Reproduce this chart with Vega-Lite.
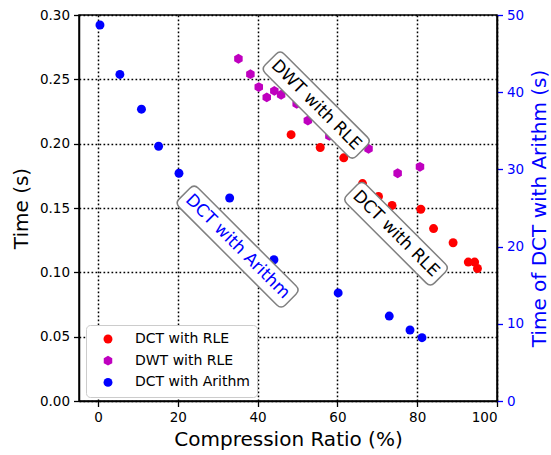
{
  "$schema": "https://vega.github.io/schema/vega-lite/v6.json",
  "width": 418,
  "height": 386,
  "autosize": {"type": "none"},
  "padding": {"left": 79, "top": 15, "right": 54, "bottom": 54},
  "config": {
    "font": "DejaVu Sans",
    "view": {"stroke": "black", "strokeWidth": 1.5},
    "axis": {
      "labelFont": "DejaVu Sans", "titleFont": "DejaVu Sans",
      "labelFontSize": 13.5, "titleFontSize": 20, "titleFontWeight": "normal",
      "labelColor": "black", "titleColor": "black", "tickColor": "black",
      "domainColor": "black", "domainWidth": 1.5, "tickWidth": 1.3, "tickSize": 5.5,
      "labelPadding": 4, "grid": true, "gridColor": "black", "gridOpacity": 1,
      "gridDash": [1.7, 2.3], "gridWidth": 1.5
    },
    "legend": {
      "fillColor": "#ffffff", "strokeColor": "#cccccc", "cornerRadius": 4,
      "padding": 7, "labelFontSize": 14, "labelFont": "DejaVu Sans", "labelColor": "black",
      "symbolSize": 80, "rowPadding": 7.7, "labelOffset": 20, "symbolOffset": 8
    }
  },
  "datasets": {
    "points": [
      {"series": "DCT with RLE", "ratio": 48.4, "time": 0.207},
      {"series": "DCT with RLE", "ratio": 55.7, "time": 0.197},
      {"series": "DCT with RLE", "ratio": 61.6, "time": 0.189},
      {"series": "DCT with RLE", "ratio": 66.3, "time": 0.169},
      {"series": "DCT with RLE", "ratio": 70.3, "time": 0.159},
      {"series": "DCT with RLE", "ratio": 73.7, "time": 0.152},
      {"series": "DCT with RLE", "ratio": 80.9, "time": 0.149},
      {"series": "DCT with RLE", "ratio": 84.1, "time": 0.134},
      {"series": "DCT with RLE", "ratio": 89.0, "time": 0.123},
      {"series": "DCT with RLE", "ratio": 92.8, "time": 0.108},
      {"series": "DCT with RLE", "ratio": 94.4, "time": 0.108},
      {"series": "DCT with RLE", "ratio": 95.1, "time": 0.103},
      {"series": "DWT with RLE", "ratio": 35.2, "time": 0.266},
      {"series": "DWT with RLE", "ratio": 38.2, "time": 0.254},
      {"series": "DWT with RLE", "ratio": 40.3, "time": 0.244},
      {"series": "DWT with RLE", "ratio": 42.3, "time": 0.236},
      {"series": "DWT with RLE", "ratio": 44.2, "time": 0.241},
      {"series": "DWT with RLE", "ratio": 45.9, "time": 0.238},
      {"series": "DWT with RLE", "ratio": 49.8, "time": 0.231},
      {"series": "DWT with RLE", "ratio": 52.6, "time": 0.218},
      {"series": "DWT with RLE", "ratio": 58.0, "time": 0.206},
      {"series": "DWT with RLE", "ratio": 67.8, "time": 0.196},
      {"series": "DWT with RLE", "ratio": 75.1, "time": 0.177},
      {"series": "DWT with RLE", "ratio": 80.7, "time": 0.182},
      {"series": "DCT with Arithm", "ratio": 0.5, "time": 48.7},
      {"series": "DCT with Arithm", "ratio": 5.5, "time": 42.3},
      {"series": "DCT with Arithm", "ratio": 10.9, "time": 37.8},
      {"series": "DCT with Arithm", "ratio": 15.2, "time": 33.0},
      {"series": "DCT with Arithm", "ratio": 20.3, "time": 29.5},
      {"series": "DCT with Arithm", "ratio": 33.0, "time": 26.3},
      {"series": "DCT with Arithm", "ratio": 44.1, "time": 18.3},
      {"series": "DCT with Arithm", "ratio": 60.2, "time": 14.0},
      {"series": "DCT with Arithm", "ratio": 73.0, "time": 11.0},
      {"series": "DCT with Arithm", "ratio": 78.2, "time": 9.2},
      {"series": "DCT with Arithm", "ratio": 81.2, "time": 8.2}
    ],
    "notes": [
      {"label": "DWT with RLE", "ratio": 54.7, "time": 0.230},
      {"label": "DCT with Arithm", "ratio": 35.0, "time": 0.120},
      {"label": "DCT with RLE", "ratio": 74.7, "time": 0.130}
    ]
  },
  "resolve": {"scale": {"y": "independent"}, "axis": {"y": "independent"}},
  "layer": [
    {
      "data": {"name": "points"},
      "transform": [{"filter": "datum.series !== 'DCT with Arithm'"}],
      "mark": {"type": "point", "filled": true, "size": 80, "opacity": 1},
      "encoding": {
        "x": {"field": "ratio", "type": "quantitative",
              "scale": {"domain": [-4.75, 100], "nice": false, "zero": false},
              "axis": {"title": "Compression Ratio (%)", "values": [0, 20, 40, 60, 80, 100], "titlePadding": 5}},
        "y": {"field": "time", "type": "quantitative",
              "scale": {"domain": [0, 0.3], "nice": false, "zero": false},
              "axis": {"title": "Time (s)", "values": [0, 0.05, 0.1, 0.15, 0.2, 0.25, 0.3], "format": ".2f", "titlePadding": 8}},
        "color": {"field": "series", "type": "nominal",
                  "scale": {"domain": ["DCT with RLE", "DWT with RLE", "DCT with Arithm"], "range": ["#ff0000", "#bf00bf", "#0000ff"]},
                  "legend": {"title": null, "orient": "none", "legendX": 7, "legendY": 310}},
        "shape": {"field": "series", "type": "nominal",
                  "scale": {"domain": ["DCT with RLE", "DWT with RLE", "DCT with Arithm"], "range": ["circle", "M0,-1.1 L0.95,-0.55 L0.95,0.55 L0,1.1 L-0.95,0.55 L-0.95,-0.55 Z", "circle"]},
                  "legend": {"title": null, "orient": "none", "legendX": 7, "legendY": 310}}
      }
    },
    {
      "data": {"name": "points"},
      "transform": [{"filter": "datum.series === 'DCT with Arithm'"}],
      "mark": {"type": "point", "filled": true, "size": 80, "opacity": 1},
      "encoding": {
        "x": {"field": "ratio", "type": "quantitative",
              "scale": {"domain": [-4.75, 100], "nice": false, "zero": false}},
        "y": {"field": "time", "type": "quantitative",
              "scale": {"domain": [0, 50], "nice": false, "zero": false},
              "axis": {"orient": "right", "title": "Time of DCT with Arithm (s)", "values": [0, 10, 20, 30, 40, 50],
                       "labelColor": "#0000ff", "titleColor": "#0000ff", "tickColor": "#0000ff",
                       "titleAngle": 270, "titleBaseline": "top", "titlePadding": 6}},
        "color": {"field": "series", "type": "nominal",
                  "scale": {"domain": ["DCT with RLE", "DWT with RLE", "DCT with Arithm"], "range": ["#ff0000", "#bf00bf", "#0000ff"]},
                  "legend": {"title": null, "orient": "none", "legendX": 7, "legendY": 310}},
        "shape": {"field": "series", "type": "nominal",
                  "scale": {"domain": ["DCT with RLE", "DWT with RLE", "DCT with Arithm"], "range": ["circle", "M0,-1.1 L0.95,-0.55 L0.95,0.55 L0,1.1 L-0.95,0.55 L-0.95,-0.55 Z", "circle"]},
                  "legend": {"title": null, "orient": "none", "legendX": 7, "legendY": 310}}
      }
    },
    {
      "data": {"name": "notes"},
      "layer": [
        {
          "transform": [{"filter": "datum.label === 'DWT with RLE'"}],
          "mark": {"type": "point", "shape": "M-0.907,-0.209 L0.907,-0.209 Q1,-0.209 1,-0.116 L1,0.116 Q1,0.209 0.907,0.209 L-0.907,0.209 Q-1,0.209 -1,0.116 L-1,-0.116 Q-1,-0.209 -0.907,-0.209 Z",
                   "size": 16641, "angle": 45, "filled": true, "fill": "white", "stroke": "#808080", "strokeWidth": 1.5, "opacity": 1},
          "encoding": {
            "x": {"field": "ratio", "type": "quantitative", "scale": {"domain": [-4.75, 100], "nice": false, "zero": false}},
            "y": {"field": "time", "type": "quantitative", "scale": {"domain": [0, 0.3], "nice": false, "zero": false}, "axis": null}
          }
        },
        {
          "transform": [{"filter": "datum.label === 'DCT with Arithm'"}],
          "mark": {"type": "point", "shape": "M-0.92,-0.18 L0.92,-0.18 Q1,-0.18 1,-0.1 L1,0.1 Q1,0.18 0.92,0.18 L-0.92,0.18 Q-1,0.18 -1,0.1 L-1,-0.1 Q-1,-0.18 -0.92,-0.18 Z",
                   "size": 22500, "angle": 45, "filled": true, "fill": "white", "stroke": "#808080", "strokeWidth": 1.5, "opacity": 1},
          "encoding": {
            "x": {"field": "ratio", "type": "quantitative", "scale": {"domain": [-4.75, 100], "nice": false, "zero": false}},
            "y": {"field": "time", "type": "quantitative", "scale": {"domain": [0, 0.3], "nice": false, "zero": false}, "axis": null}
          }
        },
        {
          "transform": [{"filter": "datum.label === 'DCT with RLE'"}],
          "mark": {"type": "point", "shape": "M-0.903,-0.218 L0.903,-0.218 Q1,-0.218 1,-0.121 L1,0.121 Q1,0.218 0.903,0.218 L-0.903,0.218 Q-1,0.218 -1,0.121 L-1,-0.121 Q-1,-0.218 -0.903,-0.218 Z",
                   "size": 15376, "angle": 45, "filled": true, "fill": "white", "stroke": "#808080", "strokeWidth": 1.5, "opacity": 1},
          "encoding": {
            "x": {"field": "ratio", "type": "quantitative", "scale": {"domain": [-4.75, 100], "nice": false, "zero": false}},
            "y": {"field": "time", "type": "quantitative", "scale": {"domain": [0, 0.3], "nice": false, "zero": false}, "axis": null}
          }
        },
        {
          "mark": {"type": "text", "angle": 45, "fontSize": 17, "font": "DejaVu Sans", "align": "center", "baseline": "middle"},
          "encoding": {
            "x": {"field": "ratio", "type": "quantitative", "scale": {"domain": [-4.75, 100], "nice": false, "zero": false}},
            "y": {"field": "time", "type": "quantitative", "scale": {"domain": [0, 0.3], "nice": false, "zero": false}, "axis": null},
            "text": {"field": "label"},
            "color": {"condition": {"test": "datum.label === 'DCT with Arithm'", "value": "#0000ff"}, "value": "black"}
          }
        }
      ]
    }
  ]
}
